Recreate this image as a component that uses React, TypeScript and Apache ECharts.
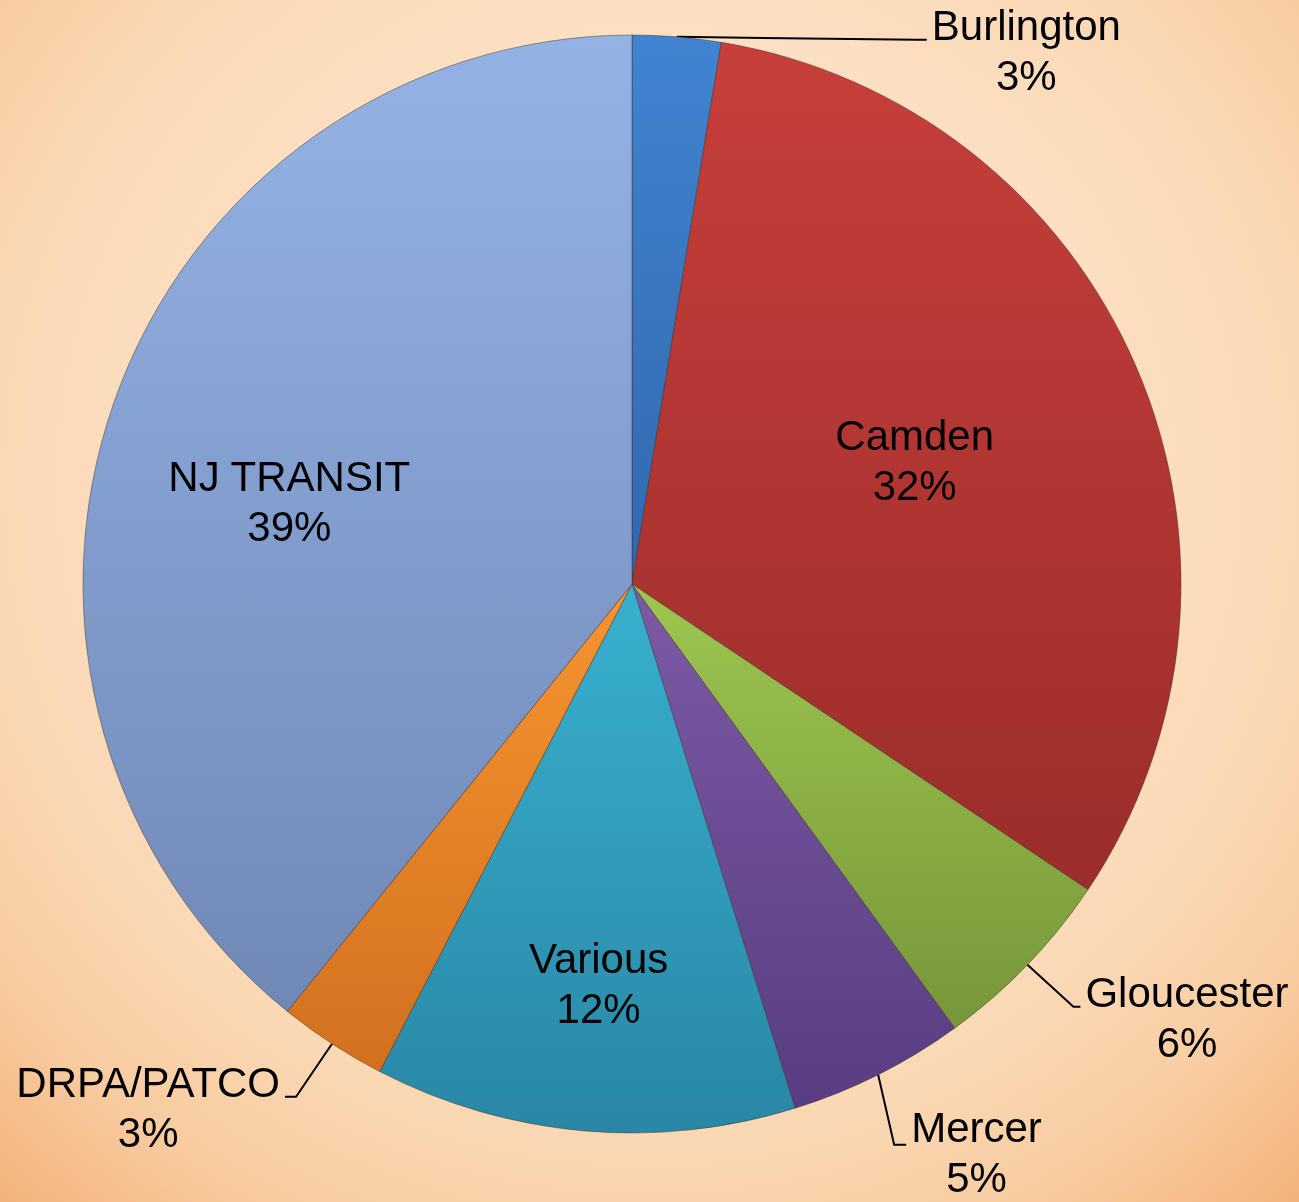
import React, { useEffect, useRef } from 'react';
import * as echarts from 'echarts';

// ---- data ----
const categories = ['Burlington', 'Camden', 'Gloucester', 'Mercer', 'Various', 'DRPA/PATCO', 'NJ TRANSIT'];
const shares = [2.6, 31.8, 5.6, 5.2, 12.4, 3.2, 39.2];
const topColors = ['#4084d0', '#c73f3b', '#9dc64f', '#7d5aa5', '#38b0cf', '#f8942f', '#94b3e5'];
const bottomColors = ['#3168ae', '#9b2d2a', '#77963a', '#583d82', '#2987a5', '#d2701f', '#7088b6'];
const insideNames = ['Camden', 'Various', 'NJ TRANSIT'];

// ---- label layout tweaks (styling, not data) ----
const INNER_SHIFT: Record<string, [number, number]> = {
  Camden: [28, -13],
  'NJ TRANSIT': [-81, 10],
  Various: [-9, 123],
};
const OUTER_LINE: Record<string, { bend: [number, number]; h: number; ty: number }> = {
  Burlington: { bend: [240, 3], h: 10, ty: 11 },
  Gloucester: { bend: [46, 42], h: 7, ty: 11 },
  Mercer: { bend: [16, 70], h: 12, ty: 8 },
  'DRPA/PATCO': { bend: [-36, 53], h: 11, ty: 11 },
};

export default function App() {
  const ref = useRef<HTMLDivElement>(null);

  useEffect(() => {
    if (!ref.current) return;
    const chart = echarts.init(ref.current, undefined, { renderer: 'svg' });

    const data = categories.map((name, i) => {
      const inside = insideNames.includes(name);
      return {
        name,
        value: shares[i],
        itemStyle: {
          color: new echarts.graphic.LinearGradient(0, 0, 0, 1, [
            { offset: 0, color: topColors[i] },
            { offset: 1, color: bottomColors[i] },
          ]),
        },
        label: { position: inside ? 'inside' : 'outside' },
        labelLine: { show: !inside },
      };
    });

    chart.setOption({
      animation: false,
      backgroundColor: 'transparent',
      series: [
        {
          type: 'pie',
          center: [632, 584],
          radius: 549,
          startAngle: 90,
          clockwise: true,
          avoidLabelOverlap: false,
          percentPrecision: 0,
          emphasis: { disabled: true },
          itemStyle: {
            borderColor: 'rgba(60,40,30,0.45)',
            borderWidth: 1,
          },
          label: {
            show: true,
            formatter: '{b}\n{d}%',
            color: '#000',
            fontSize: 42,
            lineHeight: 50,
            fontFamily: '"Liberation Sans", Arial, sans-serif',
            alignTo: 'none',
          },
          labelLine: {
            show: true,
            length: 10,
            length2: 10,
            lineStyle: { color: '#000', width: 2 },
          },
          labelLayout: (params: any) => {
            const name = categories[params.dataIndex];
            const r = params.labelRect;
            if (INNER_SHIFT[name]) {
              const s = INNER_SHIFT[name];
              return {
                x: r.x + r.width / 2 + s[0],
                y: r.y + r.height / 2 + s[1],
                align: 'center',
                verticalAlign: 'middle',
              };
            }
            const cfg = OUTER_LINE[name];
            const pts = params.labelLinePoints;
            if (!cfg || !pts) return {};
            const p1 = pts[0];
            const side = cfg.bend[0] >= 0 ? 1 : -1;
            const p2 = [p1[0] + cfg.bend[0], p1[1] + cfg.bend[1]];
            const p3 = [p2[0] + side * cfg.h, p2[1]];
            return {
              x: p3[0] + side * (5 + r.width / 2),
              y: p3[1] + cfg.ty,
              align: 'center',
              verticalAlign: 'middle',
              labelLinePoints: [p1, p2, p3],
            };
          },
          data,
        },
      ],
    });

    return () => chart.dispose();
  }, []);

  return (
    <div
      ref={ref}
      style={{
        position: 'fixed',
        left: 0,
        top: 0,
        width: 1299,
        height: 1202,
        background:
          'radial-gradient(circle farthest-corner at 50% 40%, #fde8d2 0%, #fde2c7 40%, #fad8b4 68%, #f8cca1 83%, #f3b37a 100%)',
      }}
    />
  );
}
